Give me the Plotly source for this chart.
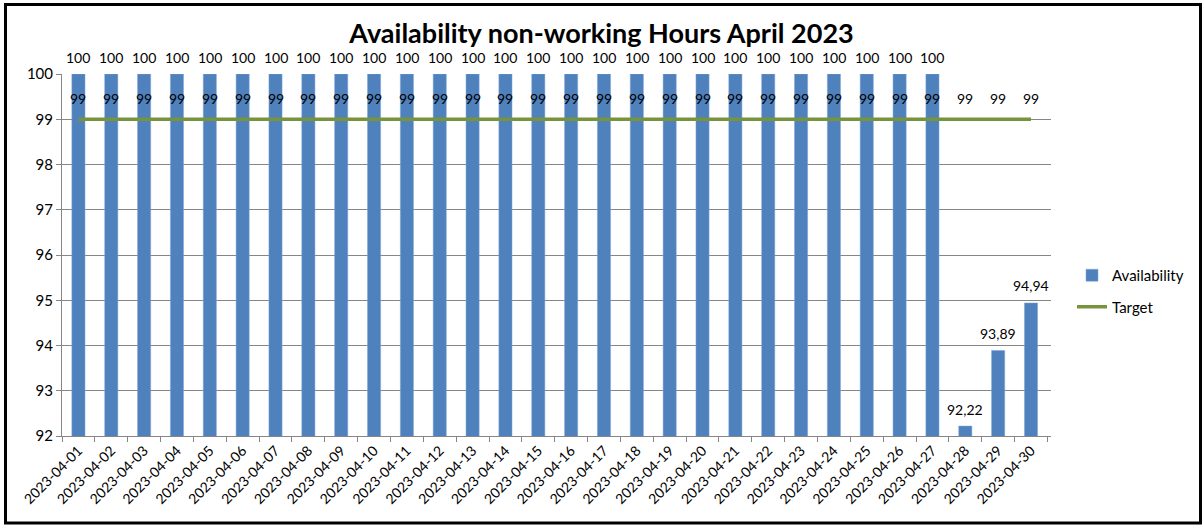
import plotly.graph_objects as go

dates = [f"2023-04-{d:02d}" for d in range(1, 31)]
availability = [100]*27 + [92.22, 93.89, 94.94]
target = [99]*30

FONT = "Lato"
W, H = 1203, 526
ML, MR, MT, MB = 62, 152, 74, 90
PW, PH = W - ML - MR, H - MT - MB

def fmt(v):
    s = f"{v:.2f}".rstrip("0").rstrip(".")
    return s.replace(".", ",")

fig = go.Figure()
fig.add_trace(go.Bar(
    x=dates, y=availability, name="Availability", legendgroup="a",
    marker=dict(color="#4F81BD", line=dict(color="#7EA6D8", width=0.5)),
    width=0.4,
))
fig.add_trace(go.Scatter(
    x=dates, y=target, name="Target", mode="lines", legendgroup="b",
    line=dict(color="#77933C", width=3.5),
))

annotations = []
for d, v in zip(dates, availability):
    annotations.append(dict(x=d, y=v, xref="x", yref="y", text=fmt(v),
                            showarrow=False, yshift=17, yanchor="middle",
                            font=dict(family=FONT, size=14, color="#000")))
for d, v in zip(dates, target):
    annotations.append(dict(x=d, y=v, xref="x", yref="y", text=fmt(v),
                            showarrow=False, yshift=21, yanchor="middle",
                            font=dict(family=FONT, size=14, color="#000")))

def px_x(p):
    return (p - ML) / PW

def px_y(p):
    return (H - MB - p) / PH

shapes = [dict(type="rect", xref="paper", yref="paper",
               x0=px_x(5.5), x1=px_x(1200.5), y0=px_y(523), y1=px_y(4.5),
               line=dict(color="#000", width=3), fillcolor="rgba(0,0,0,0)",
               layer="above")]

fig.update_layout(
    width=W, height=H,
    margin=dict(l=ML, r=MR, t=MT, b=MB),
    paper_bgcolor="white", plot_bgcolor="white",
    font=dict(family=FONT, size=14, color="#000"),
    title=dict(text="<b>Availability non-working Hours April 2023</b>",
               x=0.5, xref="container", xanchor="center",
               y=1 - 34/H, yref="container", yanchor="middle",
               font=dict(family=FONT, size=27, color="#000")),
    showlegend=True,
    legend=dict(x=px_x(1072), y=px_y(291), xanchor="left", yanchor="middle",
                font=dict(family=FONT, size=15), bgcolor="rgba(0,0,0,0)",
                tracegroupgap=9, itemwidth=30),
    bargap=0.6,
    annotations=annotations,
    shapes=shapes,
)
fig.update_xaxes(type="category", tickangle=-45, tickson="boundaries",
                 ticks="outside", ticklen=5, tickcolor="#868686",
                 showline=True, linecolor="#868686", linewidth=1,
                 showgrid=False, tickfont=dict(family=FONT, size=14))
fig.update_yaxes(range=[92, 100], dtick=1, ticks="outside", ticklen=5,
                 tickcolor="#868686", showline=True, linecolor="#868686",
                 linewidth=1, showgrid=True, gridcolor="#868686", gridwidth=1,
                 zeroline=False, tickfont=dict(family=FONT, size=15))

fig.write_html("out.html",
               config={"displayModeBar": False},
               post_script="document.body.style.margin='0';document.body.style.overflow='hidden';")
